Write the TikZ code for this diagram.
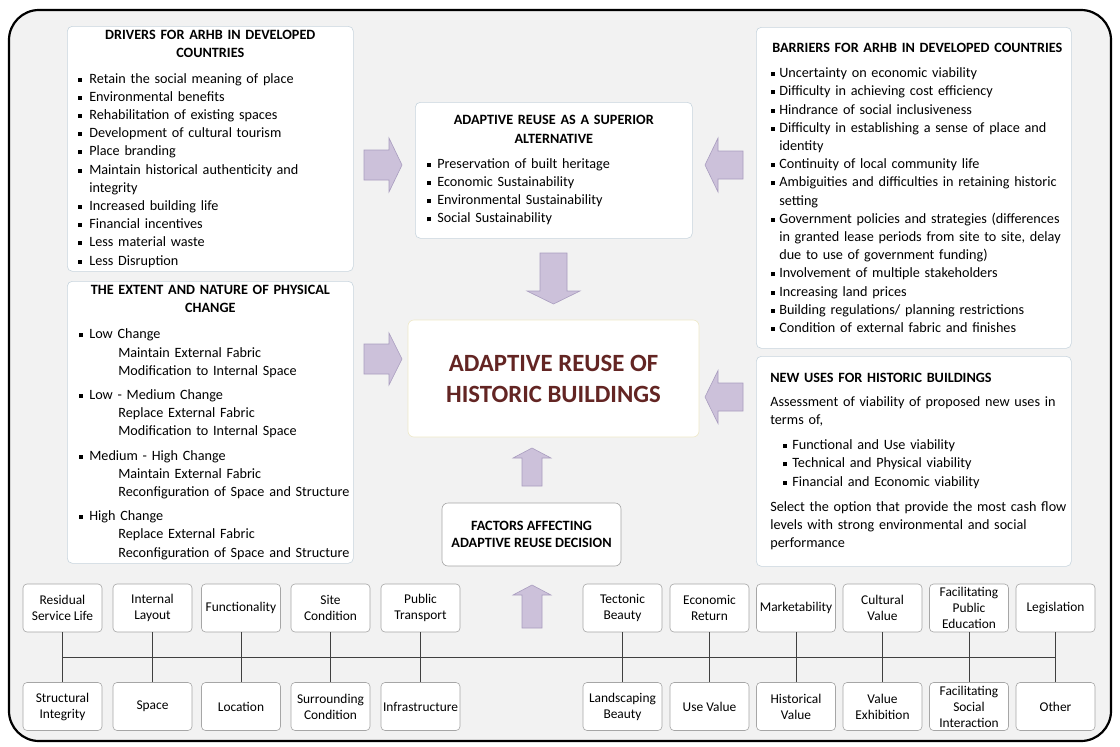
\documentclass[tikz,border=0pt]{standalone}
\usepackage{fontspec}
\setmainfont{Carlito}
\usepackage{tikz}
\usetikzlibrary{positioning,calc}
\definecolor{panel}{HTML}{F2F2F2}
\definecolor{edge}{HTML}{C8D5DE}
\definecolor{lilac}{HTML}{CCC1DA}
\definecolor{lilacline}{HTML}{A99DBF}
\definecolor{maroon}{HTML}{632523}
\definecolor{cream}{HTML}{EFE9C9}
\definecolor{factoredge}{HTML}{A6A6A6}
\definecolor{tieline}{HTML}{404040}

\newcommand{\sqb}{\rule[0.22ex]{0.28em}{0.28em}}
\newcommand{\bodyfont}{\fontsize{14.2}{18.2}\selectfont\hyphenpenalty=10000\relax}
\newcommand{\subline}{\\\hspace*{29pt}}
\newenvironment{blist}[3][0pt]{%
  \begin{list}{\sqb}{\setlength{\leftmargin}{#2}\setlength{\labelsep}{#3}%
    \setlength{\labelwidth}{\dimexpr#2-#3\relax}\setlength{\rightmargin}{-12pt}%
    \setlength{\itemsep}{#1}\setlength{\parsep}{0pt}%
    \setlength{\topsep}{0pt}\setlength{\partopsep}{0pt}}}%
  {\end{list}}

\begin{document}
\begin{tikzpicture}[x=1pt, y=-1pt,
    panelbox/.style={draw=edge, fill=white, rounded corners=5pt, line width=0.6pt,
                     anchor=north west, align=left, font=\bodyfont,
                     inner xsep=4pt, inner ysep=0pt},
    corebox/.style={draw=cream, fill=white, rounded corners=6pt, line width=0.6pt,
                    align=center, text=maroon,
                    font=\fontsize{24.8}{31}\selectfont\bfseries,
                    minimum width=291pt, minimum height=117pt},
    factorsbox/.style={draw=factoredge, fill=white, rounded corners=6pt,
                    line width=0.6pt, align=center,
                    font=\fontsize{14.2}{17.5}\selectfont\bfseries,
                    minimum width=179pt, minimum height=63pt},
    factor/.style={draw=factoredge, fill=white, rounded corners=4pt, line width=0.6pt,
                   align=center, font=\fontsize{13.4}{16}\selectfont,
                   minimum width=79pt, minimum height=48pt, inner sep=1pt},
    tie/.style={draw=tieline, line width=0.9pt},
    arrowbody/.style={fill=lilac, draw=lilacline, line width=0.6pt},
    pics/blockarrow/.style n args={4}{code={
      \path[arrowbody] (0,-#2) -- ({#1-#4},-#2) -- ({#1-#4},-#3) -- (#1,0)
        -- ({#1-#4},#3) -- ({#1-#4},#2) -- (0,#2) -- cycle;}},
  ]
  \fill[white] (0,0) rectangle (1120,747);
  \useasboundingbox (0,0) rectangle (1120,747);
  \draw[line width=2.2pt, rounded corners=30pt, fill=panel] (9,10) rectangle (1111,741);

  % --- upper panels --------------------------------------------------------
  \node[panelbox, text width=278pt, minimum height=245pt] (drivers) at (67,26) {%
    {\centering\bfseries DRIVERS FOR ARHB IN DEVELOPED\\COUNTRIES\par}\vspace{7pt}
    \begin{blist}{18pt}{7pt}
      \item Retain the social meaning of place
      \item Environmental benefits
      \item Rehabilitation of existing spaces
      \item Development of cultural tourism
      \item Place branding
      \item Maintain historical authenticity and\\integrity
      \item Increased building life
      \item Financial incentives
      \item Less material waste
      \item Less Disruption
    \end{blist}};

  \node[panelbox, text width=269pt, minimum height=136pt] (superior) at (415,102) {%
    {\centering\bfseries ADAPTIVE REUSE AS A SUPERIOR\\ALTERNATIVE\par}\vspace{7pt}
    \begin{blist}{18pt}{6pt}
      \item Preservation of built heritage
      \item Economic Sustainability
      \item Environmental Sustainability
      \item Social Sustainability
    \end{blist}};

  \node[panelbox, text width=307pt, minimum height=321pt] (barriers) at (756,27) {%
    {\leftskip=12pt\rightskip=-14pt plus 1fil\bfseries BARRIERS FOR ARHB IN DEVELOPED COUNTRIES\par}\vspace{7pt}
    \begin{blist}{19pt}{4pt}
      \item Uncertainty on economic viability
      \item Difficulty in achieving cost efficiency
      \item Hindrance of social inclusiveness
      \item Difficulty in establishing a sense of place and\\identity
      \item Continuity of local community life
      \item Ambiguities and difficulties in retaining historic\\setting
      \item Government policies and strategies (differences\\in granted lease periods from site to site, delay\\due to use of government funding)
      \item Involvement of multiple stakeholders
      \item Increasing land prices
      \item Building regulations/ planning restrictions
      \item Condition of external fabric and finishes
    \end{blist}};

  % --- middle panels -------------------------------------------------------
  \node[panelbox, text width=278pt, minimum height=282pt] (physical) at (67,281) {%
    {\centering\bfseries THE EXTENT AND NATURE OF PHYSICAL\\CHANGE\par}\vspace{8pt}
    \begin{blist}[6pt]{18pt}{6pt}
      \item Low Change\subline Maintain External Fabric\subline Modification to Internal Space
      \item Low - Medium Change\subline Replace External Fabric\subline Modification to Internal Space
      \item Medium - High Change\subline Maintain External Fabric\subline Reconfiguration of Space and Structure
      \item High Change\subline Replace External Fabric\subline Reconfiguration of Space and Structure
    \end{blist}};

  \node[panelbox, text width=307pt, minimum height=210pt] (newuses) at (756,356) {%
    {\leftskip=10pt\bfseries NEW USES FOR HISTORIC BUILDINGS\par}\vspace{6pt}
    {\leftskip=10pt\rightskip=-12pt plus 1fil Assessment of viability of proposed new uses in\\terms of,\par}\vspace{7pt}
    \begin{blist}{32pt}{5pt}
      \item Functional and Use viability
      \item Technical and Physical viability
      \item Financial and Economic viability
    \end{blist}\vspace{7pt}
    {\leftskip=10pt\rightskip=-12pt plus 1fil Select the option that provide the most cash flow\\levels with strong environmental and social\\performance\par}};

  \node[corebox] (core) at (553.5,378.5) {ADAPTIVE REUSE OF\\HISTORIC BUILDINGS};
  \node[factorsbox] (factors) at (531.5,534.5) {FACTORS AFFECTING\\ADAPTIVE REUSE DECISION};

  % --- block arrows towards the core --------------------------------------
  \pic at (364,165) {blockarrow={38}{15}{27}{13}};
  \pic[rotate=180] at (743,165) {blockarrow={38}{14}{27}{13}};
  \pic[rotate=-90] at (553.5,253) {blockarrow={51}{13.5}{26.5}{13}};
  \pic at (364,359) {blockarrow={38}{15}{26}{13}};
  \pic[rotate=180] at (743,397) {blockarrow={38}{14}{26.5}{13}};
  \pic[rotate=90] at (532,486) {blockarrow={38}{10}{19}{10}};
  \pic[rotate=90] at (532,628) {blockarrow={43}{10}{19}{10}};

  % --- factor boxes on the bus --------------------------------------------
  \foreach \n/\x/\ttop/\tbot in {%
      1/62.5/{Residual\\Service Life}/{Structural\\Integrity},
      2/152.5/{Internal\\Layout}/{Space},
      3/241/{Functionality}/{Location},
      4/330.5/{Site\\Condition}/{Surrounding\\Condition},
      5/420.5/{Public\\Transport}/{Infrastructure},
      6/622.5/{Tectonic\\Beauty}/{Landscaping\\Beauty},
      7/709.5/{Economic\\Return}/{Use Value},
      8/796/{Marketability}/{Historical\\Value},
      9/882.5/{Cultural\\Value}/{Value\\Exhibition},
      10/969/{Facilitating\\Public\\Education}/{Facilitating\\Social\\Interaction},
      11/1055.5/{Legislation}/{Other}}{
    \node[factor] (top\n) at (\x,608) {\ttop};
    \node[factor] (bot\n) at (\x,706.5) {\tbot};
    \draw[tie] (top\n) -- (bot\n);
  }
  \draw[tie] ($(top1.south)!0.5!(bot1.north)$) -- ($(top11.south)!0.5!(bot11.north)$);
\end{tikzpicture}
\end{document}
